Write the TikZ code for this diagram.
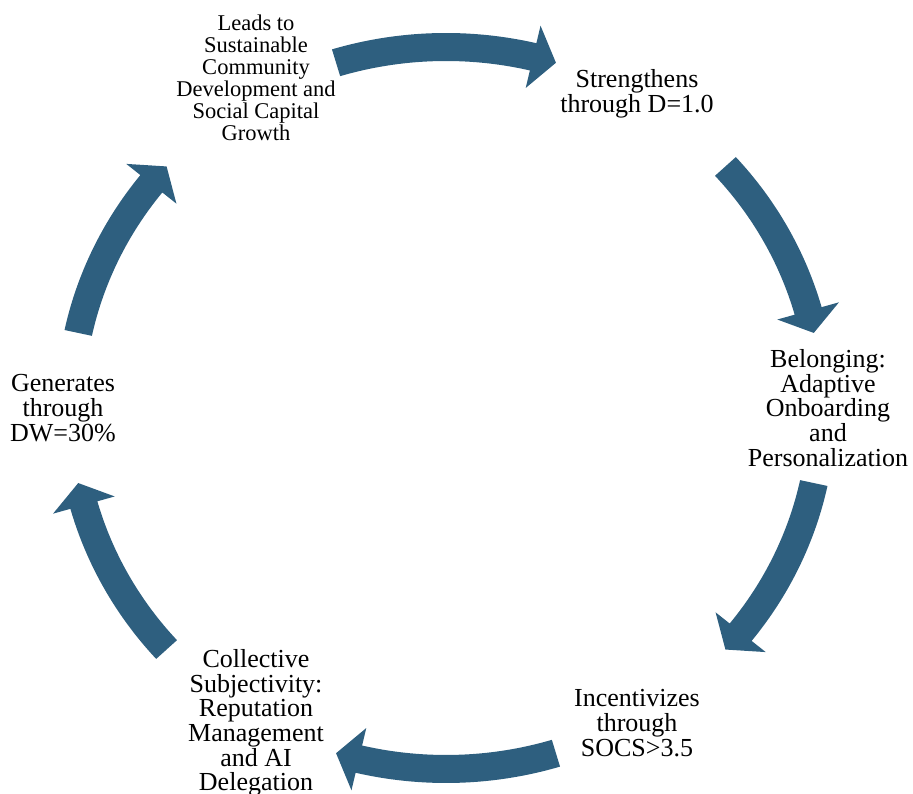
\documentclass[tikz,border=0pt]{standalone}
\usepackage{fontspec}
\setmainfont{Liberation Serif}
\usepackage{tikz}
\usetikzlibrary{positioning}

\definecolor{cycblue}{RGB}{46,95,127}

\tikzset{
  lbl/.style={align=center, inner sep=0pt, font=\fontsize{26}{24.7}\selectfont},
  lblsmall/.style={align=center, inner sep=0pt, font=\fontsize{22.5}{22}\selectfont},
  cycarrow/.style={fill=cycblue, draw=none}
}

\begin{document}
\begin{tikzpicture}[x=1pt,y=1pt]
\useasboundingbox (0,0) rectangle (913,794);
\coordinate (ctr) at (446,386);

% stages round the cycle
\node[lblsmall] (lead) at (256,716) {Leads to\\Sustainable\\Community\\Development and\\Social Capital\\Growth};
\node[lbl] (streng) at (637,700) {Strengthens\\through D=1.0};
\node[lbl] (belong) at (828,386) {Belonging:\\Adaptive\\Onboarding\\and\\Personalization};
\node[lbl] (incent) at (637,71) {Incentivizes\\through\\SOCS>3.5};
\node[lbl] (collect) at (256,71) {Collective\\Subjectivity:\\Reputation\\Management\\and AI\\Delegation};
\node[lbl] (gener) at (63,386) {Generates\\through\\DW=30\%};

% curved block arrows, clockwise
\foreach \ta/\tb in {107/73, 42/12, -12/-42, -73/-107, -138/-168, 168/138} {
  \pgfmathsetmacro\tc{\tb+3.6}
  \fill[cycarrow, shift={(ctr)}]
    ({390*cos(\ta)},{375*sin(\ta)})
    arc[start angle=\ta, end angle=\tc, x radius=390, y radius=375]
    -- ({408*cos(\tc)},{393*sin(\tc)})
    -- ({376*cos(\tb)},{361*sin(\tb)})
    -- ({344*cos(\tc)},{329*sin(\tc)})
    -- ({362*cos(\tc)},{347*sin(\tc)})
    arc[start angle=\tc, end angle=\ta, x radius=362, y radius=347]
    -- cycle;
}
\end{tikzpicture}
\end{document}
